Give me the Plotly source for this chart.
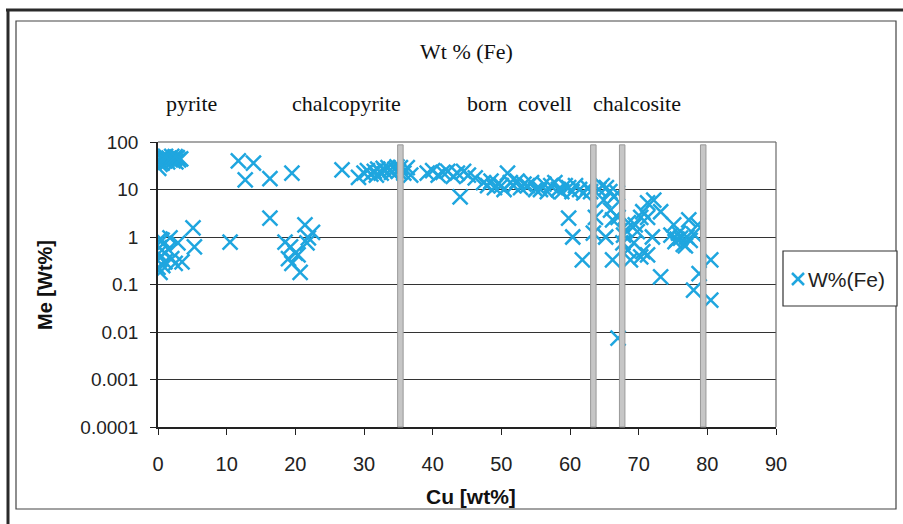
import plotly.graph_objects as go

# Cu content (wt%) and Fe content (wt%) of analysed sulphide grains
cu_wt = [
    0.1, 0.2, 0.4, 0.6, 0.8, 1.0, 1.2, 1.4, 1.6, 1.8, 2.0, 2.2, 2.4, 2.6, 2.8, 3.0, 3.3, 0.3, 1.1, 2.5,
    0.3, 0.2, 0.6, 0.1, 0.3, 0.0, 0.3, 1.0, 1.0, 1.75, 2.5, 2.9, 3.5, 1.5, 0.7, 2.0, 5.1, 5.3, 10.5,
    11.7, 13.9, 12.7, 16.3, 16.3, 19.5,
    18.5, 19.3, 20.0, 19.5, 20.7, 21.7, 21.9, 20.4, 21.4, 22.5, 19.0,
    26.8, 29.2, 30.0, 30.5, 31.0, 31.5, 32.0, 32.5, 33.0, 33.5, 34.0, 34.5, 35.0, 35.3, 35.8, 36.3,
    36.8, 33.8, 34.8, 32.8, 31.8,
    39.2, 40.0, 40.8, 41.5, 42.2, 43.0, 43.6, 44.0, 44.5, 45.2, 46.2, 47.4, 48.0, 48.5, 49.0, 49.5,
    50.0, 50.4, 50.9, 51.3, 51.8, 52.3, 52.8, 53.3, 53.8, 54.4, 55.0, 55.7, 56.2, 56.7, 57.2, 57.8,
    58.3, 58.8, 59.3, 59.8, 60.3, 60.8, 61.4, 62.0, 62.6, 63.0, 64.2, 64.7, 65.3, 65.8, 66.4, 66.9, 64.9,
    59.8, 60.4, 61.8, 65.9, 66.2, 65.2, 66.2, 67.0, 67.0, 67.7, 68.4, 68.8, 69.3, 70.3, 71.3, 70.3,
    68.1, 63.7, 63.4, 72.2, 73.2, 71.3, 75.1, 77.3, 76.1, 74.7, 75.3, 75.8, 76.5, 77.0, 77.5, 78.0,
    76.8, 75.6, 78.6, 71.3, 73.2, 78.0, 80.5, 78.8, 80.5, 70.6, 70.6, 69.5, 68.5, 67.8, 69.8, 72.0,
]
fe_wt = [
    28, 40, 45, 36, 48, 40, 44, 38, 46, 42, 50, 40, 45, 38, 47, 42, 44, 34, 50, 49,
    0.9, 0.6, 0.86, 0.45, 0.37, 0.23, 0.18, 0.46, 0.3, 0.96, 0.28, 0.75, 0.3, 0.55, 0.25, 0.35, 1.55, 0.62, 0.78,
    40, 36, 16, 17, 2.5, 22,
    0.78, 0.62, 0.46, 0.28, 0.18, 0.75, 0.96, 0.42, 1.8, 1.25, 0.35,
    26, 18, 22, 25, 21, 24, 27, 22, 25, 29, 23, 27, 24, 29, 22, 29,
    20, 26, 30, 28, 20,
    22, 25, 20, 23, 24, 19, 22, 7, 24, 20, 17.5, 14, 12, 15, 11, 13,
    12, 10, 22, 14, 12, 15, 11, 13, 12, 14, 10, 10, 13, 9, 12, 14,
    10, 9, 12, 11, 9, 12, 10, 8.5, 11, 9, 10, 12, 11, 9, 7, 8.5, 6,
    2.5, 1.0, 0.33, 3.7, 2.3, 1.0, 0.33, 0.0074, 2.6, 0.75, 0.53, 0.33, 0.75, 2.6, 5.2, 0.38,
    1.4, 2.6, 1.2, 6, 3.4, 2.6, 1.8, 2.3, 0.95, 1.1, 0.8, 1.2, 0.7, 1.0, 0.85, 1.15,
    0.65, 0.9, 1.8, 0.42, 0.145, 0.076, 0.33, 0.17, 0.047, 0.49, 3.4, 1.8, 2.0, 1.1, 1.3, 1.0,
]

# Stoichiometric Cu contents of the reference minerals
mineral_cu = [35.3, 63.4, 67.6, 79.4]
mineral_names = ["pyrite", "chalcopyrite", "born", "covell", "chalcosite"]
mineral_label_x = [191, 346, 487, 545, 637]

y_tickvals = [100, 10, 1, 0.1, 0.01, 0.001, 0.0001]
y_ticktext = ["100", "10", "1", "0.1", "0.01", "0.001", "0.0001"]
x_tickvals = [0, 10, 20, 30, 40, 50, 60, 70, 80, 90]
series_name = "W%(Fe)"

W, H = 903, 524
L, R, T, B = 158, 776, 142, 427


def px(xp):
    return (xp - L) / (R - L)


def py(yp):
    return (B - yp) / (B - T)


blue = "#1fa6df"
sans = "Liberation Sans"
serif = "Liberation Serif"

fig = go.Figure()
fig.add_trace(go.Scatter(
    x=cu_wt, y=fe_wt, mode="markers", name=series_name, showlegend=False,
    marker=dict(symbol="x-thin-open", size=15, color=blue,
                line=dict(width=2.5, color=blue)),
))

shapes = []
# reference mineral lines
for xv in mineral_cu:
    shapes.append(dict(type="rect", xref="x", yref="paper", x0=xv - 0.4, x1=xv + 0.4,
                       y0=0.0, y1=0.99, fillcolor="#c6c6c6",
                       line=dict(color="#999999", width=1), layer="above"))
# plot area border (top/right)
shapes.append(dict(type="line", xref="paper", yref="paper", x0=0, x1=1, y0=1, y1=1,
                   line=dict(color="#8a8a8a", width=1.5)))
shapes.append(dict(type="line", xref="paper", yref="paper", x0=1, x1=1, y0=0, y1=1,
                   line=dict(color="#6a6a6a", width=1.2)))
# chart frame
shapes.append(dict(type="line", xref="paper", yref="paper", x0=px(6), x1=px(903), y0=py(10), y1=py(10),
                   line=dict(color="#2a2a2a", width=3)))
shapes.append(dict(type="line", xref="paper", yref="paper", x0=px(8), x1=px(8), y0=py(10), y1=py(524),
                   line=dict(color="#2a2a2a", width=3)))
shapes.append(dict(type="rect", xref="paper", yref="paper", x0=px(16), x1=px(896), y0=py(21), y1=py(509),
                   line=dict(color="#444444", width=1.2)))
# legend box and its symbol
shapes.append(dict(type="rect", xref="paper", yref="paper", x0=px(783), x1=px(897), y0=py(251), y1=py(306),
                   line=dict(color="#333333", width=1.2), fillcolor="white"))
for dy in (-1, 1):
    shapes.append(dict(type="line", xref="paper", yref="paper",
                       x0=px(792), x1=px(804), y0=py(279 - 6 * dy), y1=py(279 + 6 * dy),
                       line=dict(color=blue, width=2.5)))


def label(text, x, y, font, **kw):
    d = dict(text=text, x=px(x), y=py(y), xref="paper", yref="paper", showarrow=False,
             xanchor="center", yanchor="middle", font=font)
    d.update(kw)
    return d


annotations = [
    label("Wt % (Fe)", 466, 52, dict(family=serif, size=22, color="#111")),
    label("<b>Cu [wt%]</b>", 471, 497, dict(family=sans, size=21, color="#111")),
    label("<b>Me [Wt%]</b>", 45, 285, dict(family=sans, size=20, color="#111"), textangle=-90),
    label(series_name, 806, 279, dict(family=sans, size=21, color="#222"), xanchor="left"),
]
for name, lx in zip(mineral_names, mineral_label_x):
    annotations.append(label(name, lx, 103, dict(family=serif, size=22, color="#111")))

fig.update_layout(
    width=W, height=H,
    margin=dict(l=L, r=W - R, t=T, b=H - B),
    paper_bgcolor="white", plot_bgcolor="white",
    showlegend=False,
    shapes=shapes,
    annotations=annotations,
    xaxis=dict(range=[0, 90], tickvals=x_tickvals, ticks="outside", ticklen=6,
               tickcolor="#222", showline=True, linecolor="#222", linewidth=1.5,
               showgrid=False, zeroline=False, ticklabelstandoff=12,
               tickfont=dict(family=sans, size=20, color="#222")),
    yaxis=dict(type="log", range=[-4, 2], tickvals=y_tickvals, ticktext=y_ticktext,
               ticks="outside", ticklen=6, tickcolor="#222", showline=True,
               linecolor="#222", linewidth=1.5, showgrid=True, gridcolor="#333",
               gridwidth=1, zeroline=False, ticklabelstandoff=8,
               tickfont=dict(family=sans, size=19, color="#222")),
)

fig.write_html("out.html")
